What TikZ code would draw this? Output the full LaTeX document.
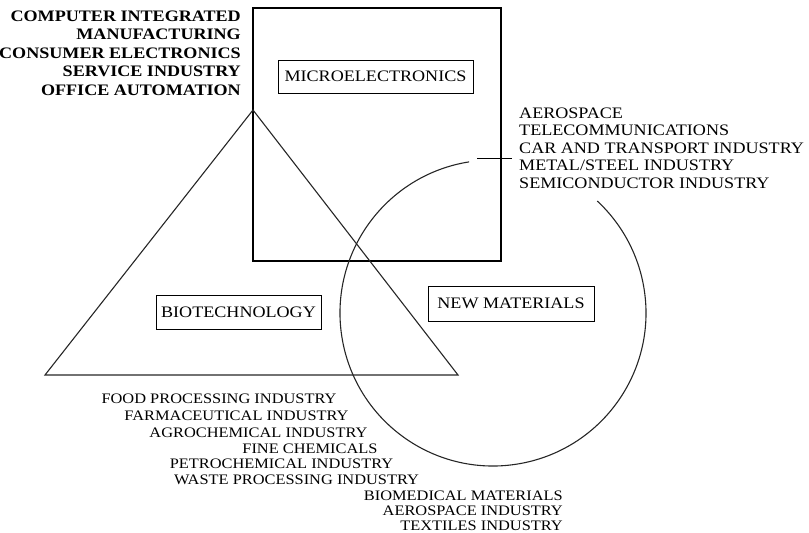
\documentclass[tikz,border=0pt]{standalone}
\usepackage{fontspec}
\setmainfont{Liberation Serif}
\newfontfamily\scanfont[FakeStretch=1.13]{Liberation Serif}
\usetikzlibrary{positioning}
\tikzset{
    field/.style={draw, rectangle, inner sep=0pt, line width=0.9pt, font=\scanfont\fontsize{16}{16}\selectfont},
    sector/.style={inner sep=0pt, font=\scanfont\fontsize{16}{16}\selectfont},
    sectorbold/.style={inner sep=0pt, font=\scanfont\bfseries\fontsize{16}{16}\selectfont},
    sectorsmall/.style={inner sep=0pt, font=\scanfont\fontsize{14.5}{14.5}\selectfont},
    outline/.style={line width=1.1pt, draw=black!85}
}

\begin{document}
\begin{tikzpicture}[x=1pt, y=-1pt, line join=miter]
        \useasboundingbox (0,0) rectangle (809,533);

        % -----------------------------------------------------------------
        % FIGURE DI BASE
        % -----------------------------------------------------------------
        \draw[line width=1.4pt] (253,8) rectangle (501,261);

        \coordinate (apex) at (253,110);
        \coordinate (leftcorner) at (45,375);
        \coordinate (rightcorner) at (458,375);
        \draw[outline] (apex) -- (leftcorner) -- (rightcorner) -- cycle;

        \coordinate (centre) at (493,313);
        \draw[outline] (centre) ++(99:153pt) arc[start angle=99, end angle=407, radius=153pt];

        % trattino verso il testo
        \coordinate (leadl) at (477,158);
        \coordinate (leadr) at (512,158);
        \draw[line width=0.9pt] (leadl) -- (leadr);

        % -----------------------------------------------------------------
        % ETICHETTE DEI SETTORI
        % -----------------------------------------------------------------
        \node[field, minimum width=195pt, minimum height=33pt] (micro) at (375.5,76.5) {MICROELECTRONICS};
        \node[field, minimum width=165pt, minimum height=34pt] (bio) at (238.5,312) {BIOTECHNOLOGY};
        \node[field, minimum width=166pt, minimum height=35pt] (newmat) at (511,303.5) {NEW MATERIALS};

        % -----------------------------------------------------------------
        % APPLICAZIONI MICROELETTRONICA
        % -----------------------------------------------------------------
        \node[sectorbold, anchor=base east] (cim) at (241,21) {COMPUTER INTEGRATED};
        \node[sectorbold, anchor=base east] (manuf) at (241,39.5) {MANUFACTURING};
        \node[sectorbold, anchor=base east] (consumer) at (241,58) {CONSUMER ELECTRONICS};
        \node[sectorbold, anchor=base east] (service) at (241,76.5) {SERVICE INDUSTRY};
        \node[sectorbold, anchor=base east] (office) at (241,95) {OFFICE AUTOMATION};

        % -----------------------------------------------------------------
        % APPLICAZIONI COMUNI
        % -----------------------------------------------------------------
        \node[sector, anchor=base west] (aero) at (519,118) {AEROSPACE};
        \node[sector, anchor=base west] (telecom) at (519,135.5) {TELECOMMUNICATIONS};
        \node[sector, anchor=base west] (car) at (519,153) {CAR AND TRANSPORT INDUSTRY};
        \node[sector, anchor=base west] (metal) at (519,170.5) {METAL/STEEL INDUSTRY};
        \node[sector, anchor=base west] (semi) at (519,188) {SEMICONDUCTOR INDUSTRY};

        % -----------------------------------------------------------------
        % APPLICAZIONI BIOTECNOLOGIA
        % -----------------------------------------------------------------
        \node[sectorsmall, anchor=base] (food) at (219,403) {FOOD PROCESSING INDUSTRY};
        \node[sectorsmall, anchor=base] (pharma) at (236.5,420) {FARMACEUTICAL INDUSTRY};
        \node[sectorsmall, anchor=base] (agro) at (258.5,437) {AGROCHEMICAL INDUSTRY};
        \node[sectorsmall, anchor=base] (fine) at (310,453) {FINE CHEMICALS};
        \node[sectorsmall, anchor=base] (petro) at (281.5,468) {PETROCHEMICAL INDUSTRY};
        \node[sectorsmall, anchor=base] (waste) at (296.5,484) {WASTE PROCESSING INDUSTRY};

        % -----------------------------------------------------------------
        % APPLICAZIONI NUOVI MATERIALI
        % -----------------------------------------------------------------
        \node[sectorsmall, anchor=base east] (biomed) at (563,500) {BIOMEDICAL MATERIALS};
        \node[sectorsmall, anchor=base east] (aeroind) at (563,515) {AEROSPACE INDUSTRY};
        \node[sectorsmall, anchor=base east] (textile) at (563,530) {TEXTILES INDUSTRY};

    \end{tikzpicture}
\end{document}
